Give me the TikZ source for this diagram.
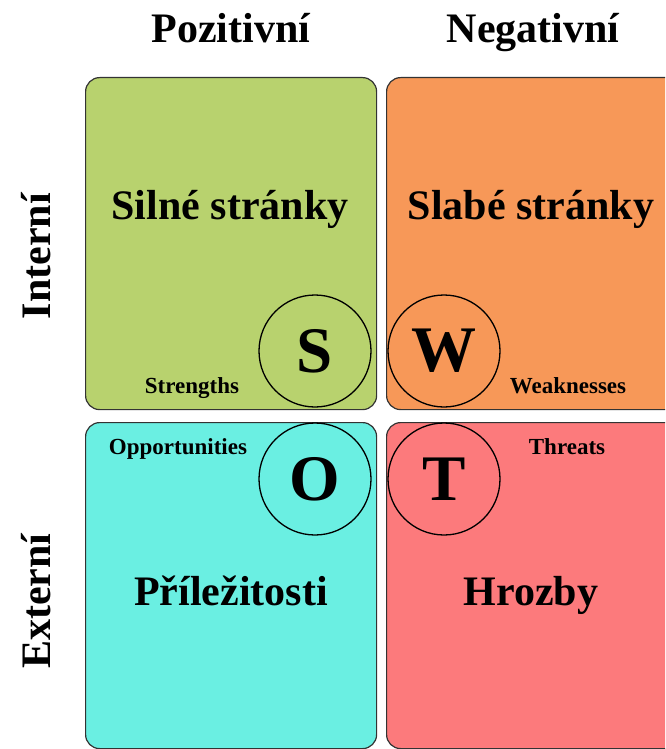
\documentclass[tikz,border=0pt]{standalone}
\usepackage{fontspec}
\setmainfont{Liberation Serif}
\definecolor{sgreen}{RGB}{184,210,110}
\definecolor{worange}{RGB}{247,152,88}
\definecolor{oteal}{RGB}{106,239,226}
\definecolor{tred}{RGB}{252,122,124}
\begin{document}
\begin{tikzpicture}[x=1pt,y=-1pt,
  quad/.style={draw=black!80, line width=1.2pt, rounded corners=14pt,
    anchor=north west, inner sep=0pt},
  big/.style={font=\bfseries\fontsize{42}{48}\selectfont, anchor=base, inner sep=0pt},
  small/.style={font=\bfseries\fontsize{23}{27}\selectfont, anchor=base, inner sep=0pt},
  ring/.style={draw=black, line width=1.3pt, circle, minimum size=112pt,
    inner sep=0pt, font=\bfseries\fontsize{65}{70}\selectfont}]
\useasboundingbox (0,0) rectangle (665,749);
\clip (0,0) rectangle (665,749);

% quadrants
\node[quad, fill=sgreen,  minimum width=291pt, minimum height=332pt] (sbox) at (85,77) {};
\node[quad, fill=worange, minimum width=300pt, minimum height=332pt] (wbox) at (386,77) {};
\node[quad, fill=oteal,   minimum width=291pt, minimum height=326pt] (obox) at (85,422) {};
\node[quad, fill=tred,    minimum width=300pt, minimum height=326pt] (tbox) at (386,422) {};

% column and row headings
\node[big] (pos) at (231,43) {Pozitivní};
\node[big] (neg) at (533,43) {Negativní};
\node[big, rotate=90] (int) at (50,256) {Interní};
\node[big, rotate=90] (ext) at (50,601) {Externí};

% quadrant titles
\node[big] (st) at (230,219) {Silné stránky};
\node[big] (wt) at (531,219) {Slabé stránky};
\node[big] (ot) at (231,605) {Příležitosti};
\node[big] (tt) at (531,605) {Hrozby};

% English labels
\node[small] (sl) at (192,393) {Strengths};
\node[small] (wl) at (568,393) {Weaknesses};
\node[small] (ol) at (178,454) {Opportunities};
\node[small] (tl) at (567,454) {Threats};

% letter rings
\node[ring] (S) at (315,351) {S};
\node[ring] (W) at (444,351) {W};
\node[ring] (O) at (315,479) {O};
\node[ring] (T) at (444,479) {T};
\end{tikzpicture}
\end{document}
